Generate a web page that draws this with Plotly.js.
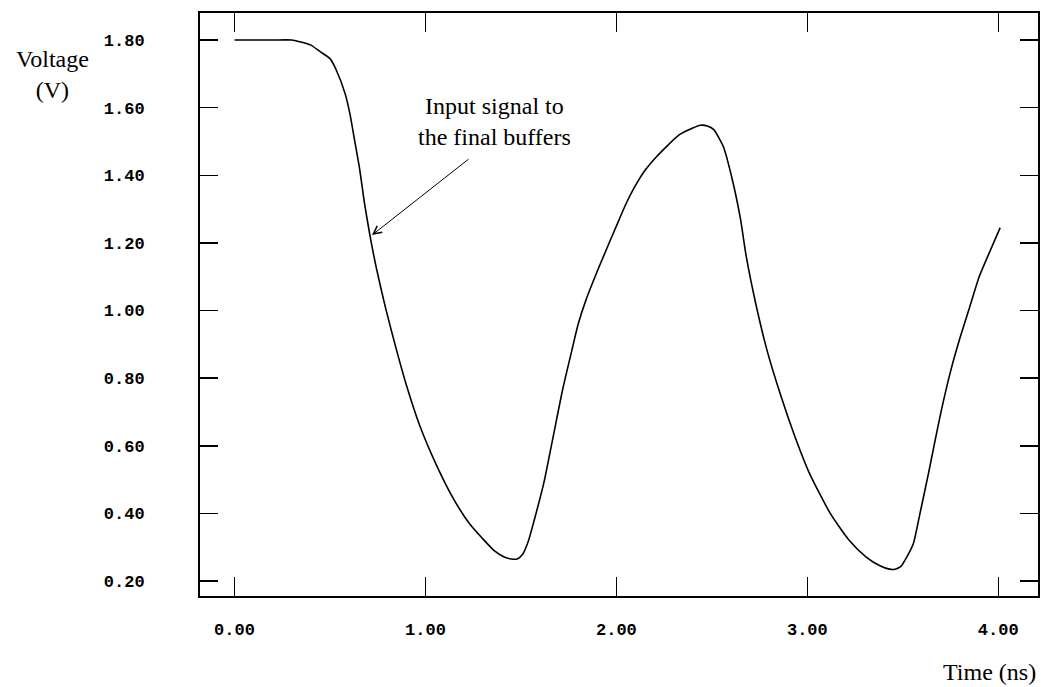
<!DOCTYPE html>
<html>
<head>
<meta charset="utf-8">
<script src="https://cdn.plot.ly/plotly-3.0.1.min.js"></script>
<style>html,body{margin:0;padding:0;background:#fff;}#chart{width:1041px;height:687px;}</style>
</head>
<body>
<div id="chart"></div>
<script>
// Time (ns)
const timeNs = [0.00, 0.10, 0.20, 0.30, 0.34, 0.40, 0.45, 0.50, 0.53, 0.58, 0.605, 0.63, 0.655, 0.68, 0.71, 0.745, 0.79, 0.85, 0.90, 0.97, 1.06, 1.15, 1.23, 1.30, 1.36, 1.41, 1.45, 1.48, 1.51, 1.54, 1.565, 1.62, 1.67, 1.72, 1.77, 1.80, 1.84, 1.91, 2.00, 2.05, 2.10, 2.15, 2.21, 2.33, 2.40, 2.44, 2.48, 2.51, 2.56, 2.61, 2.65, 2.68, 2.73, 2.79, 2.86, 2.93, 3.01, 3.12, 3.22, 3.31, 3.38, 3.43, 3.46, 3.49, 3.52, 3.555, 3.59, 3.635, 3.66, 3.70, 3.75, 3.80, 3.85, 3.90, 3.96, 4.01];
// Voltage (V)
const voltage = [1.80, 1.80, 1.80, 1.80, 1.795, 1.785, 1.765, 1.745, 1.715, 1.64, 1.58, 1.50, 1.42, 1.32, 1.22, 1.12, 1.01, 0.88, 0.78, 0.66, 0.54, 0.44, 0.37, 0.325, 0.29, 0.272, 0.265, 0.265, 0.28, 0.32, 0.37, 0.49, 0.63, 0.77, 0.89, 0.96, 1.03, 1.13, 1.25, 1.315, 1.37, 1.415, 1.455, 1.52, 1.54, 1.548, 1.545, 1.535, 1.485, 1.38, 1.27, 1.16, 1.02, 0.88, 0.75, 0.635, 0.52, 0.40, 0.32, 0.27, 0.245, 0.235, 0.235, 0.243, 0.27, 0.31, 0.40, 0.52, 0.59, 0.70, 0.82, 0.92, 1.01, 1.10, 1.18, 1.245];

const xTickVals = [0, 1, 2, 3, 4];
const xTickText = ["0.00", "1.00", "2.00", "3.00", "4.00"];
const yTickVals = [0.2, 0.4, 0.6, 0.8, 1.0, 1.2, 1.4, 1.6, 1.8];
const yTickText = ["0.20", "0.40", "0.60", "0.80", "1.00", "1.20", "1.40", "1.60", "1.80"];

const annotationText = "Input signal to<br>the final buffers";
const arrowHead = {t: 0.72, v: 1.223};
const arrowTail = {t: 1.233, v: 1.451};

const tickFont = {family: "Liberation Mono, DejaVu Sans Mono, monospace", size: 17, color: "#000", weight: "bold"};
const serifFont = {family: "Liberation Serif, Times New Roman, serif", size: 24, color: "#000"};

const trace = {
  x: timeNs, y: voltage, type: "scatter", mode: "lines",
  line: {color: "#000", width: 1.6, shape: "spline", smoothing: 0.6},
  hoverinfo: "skip", showlegend: false
};

const axisCommon = {
  showline: true, linecolor: "#000", linewidth: 2, mirror: "ticks",
  ticks: "inside", tickcolor: "#000", tickwidth: 1.5,
  showgrid: false, zeroline: false, tickfont: tickFont, tickmode: "array"
};

const layout = {
  width: 1041, height: 687,
  margin: {l: 200, r: 3, t: 13, b: 91, pad: 0},
  paper_bgcolor: "#fff", plot_bgcolor: "#fff",
  showlegend: false,
  xaxis: Object.assign({}, axisCommon, {
    range: [-0.1807, 4.208], tickvals: xTickVals, ticktext: xTickText,
    ticklen: 19, ticklabelstandoff: 17
  }),
  yaxis: Object.assign({}, axisCommon, {
    range: [0.1556, 1.880], tickvals: yTickVals, ticktext: yTickText,
    ticklen: 18, ticklabelstandoff: 50
  }),
  annotations: [
    {text: annotationText, xref: "x", yref: "paper", x: 1.36, y: (596 - 121) / 583,
     xanchor: "center", yanchor: "middle", showarrow: false, font: serifFont, align: "center"},
    {text: "", xref: "x", yref: "y", x: arrowHead.t, y: arrowHead.v,
     axref: "x", ayref: "y", ax: arrowTail.t, ay: arrowTail.v,
     showarrow: true, arrowhead: 5, arrowsize: 1.6, arrowwidth: 1, arrowcolor: "#000", standoff: 0},
    {text: "Voltage<br>(V)", xref: "paper", yref: "paper", x: (52 - 200) / 838, y: (596 - 74) / 583,
     xanchor: "center", yanchor: "middle", showarrow: false, font: serifFont, align: "center"},
    {text: "Time (ns)", xref: "paper", yref: "paper", x: 1.0, y: (596 - 672) / 583,
     xanchor: "right", yanchor: "middle", showarrow: false, font: serifFont}
  ]
};

Plotly.newPlot("chart", [trace], layout, {displayModeBar: false, staticPlot: true});
</script>
</body>
</html>
